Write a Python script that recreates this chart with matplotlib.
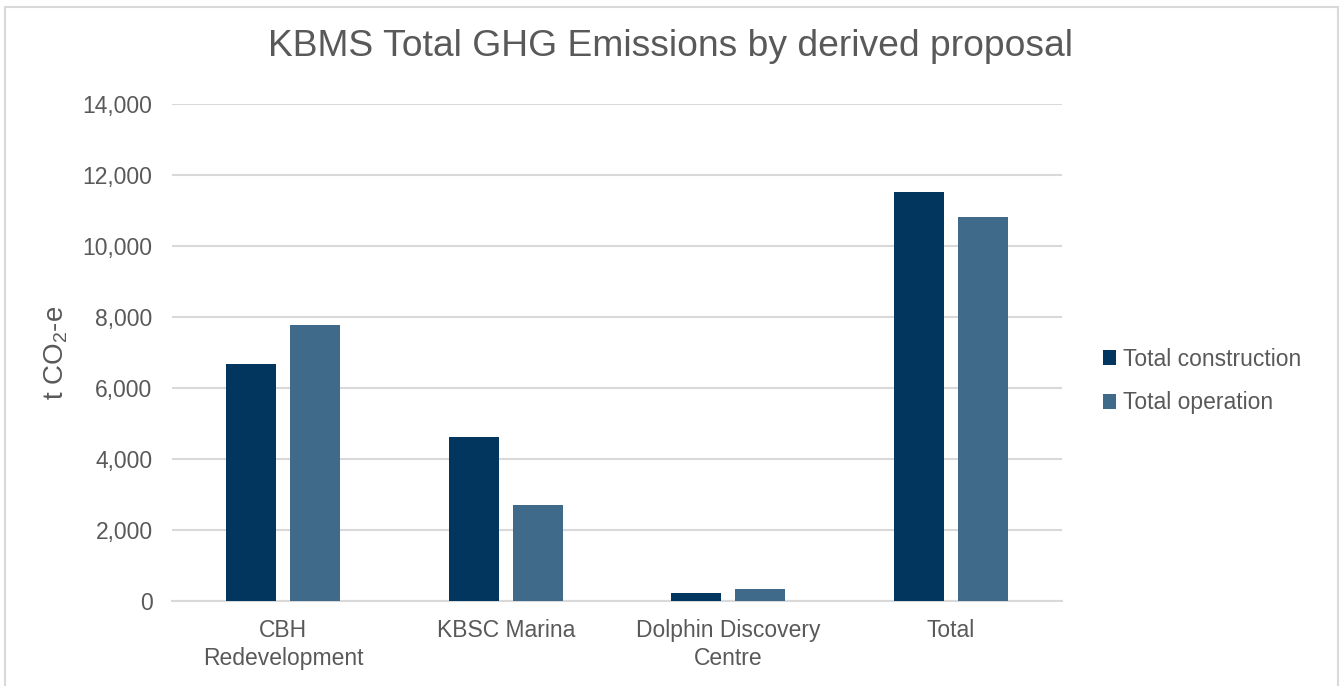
import numpy as np
import matplotlib; matplotlib.use("Agg")
import matplotlib.pyplot as plt
from matplotlib.patches import Rectangle
from matplotlib.ticker import FuncFormatter

plt.rcParams.update({"font.family": ["Liberation Sans", "DejaVu Sans"],
                     "mathtext.fontset": "custom", "mathtext.rm": "Liberation Sans",
                     "mathtext.it": "Liberation Sans:italic"})

categories = ["CBH\nRedevelopment", "KBSC Marina", "Dolphin Discovery\nCentre", "Total"]
construction = [6680, 4620, 215, 11520]
operation = [7780, 2700, 325, 10820]
series_names = ["Total construction", "Total operation"]
colors = ["#03365F", "#3F6A8A"]
txt = "#595959"
grid_c = "#D9D9D9"

fig = plt.figure(figsize=(13.4, 6.86), dpi=100)
W, H = 1340, 686
ax = fig.add_axes([172/W, 1-601/H, (1062-172)/W, (601-104)/H])

x = np.arange(len(categories))
bw = 0.225
off = 0.144
ax.bar(x-off, construction, bw, color=colors[0], label=series_names[0], zorder=3)
ax.bar(x+off, operation, bw, color=colors[1], label=series_names[1], zorder=3)

ax.set_xlim(-0.5, len(categories)-0.5)
ax.set_ylim(0, 14000)
ax.set_yticks(np.arange(0, 14001, 2000))
ax.yaxis.set_major_formatter(FuncFormatter(lambda v, p: f"{int(v):,}"))
ax.set_xticks(x)
ax.set_xticklabels(categories, fontsize=16.5, color=txt, linespacing=1.3)
ax.tick_params(axis="y", labelsize=16.5, colors=txt, length=0, pad=14)
ax.tick_params(axis="x", length=0, pad=13)
ax.grid(axis="y", color=grid_c, lw=1.5, zorder=0)
for s in ["top", "right", "left"]:
    ax.spines[s].set_visible(False)
ax.spines["bottom"].set_color(grid_c)
ax.spines["bottom"].set_linewidth(1.5)

# y label placed by hand, centred where the reference has it
ax.set_ylabel(r"t CO$_2$-e", fontsize=20, color=txt)
ax.yaxis.set_label_coords(56/W, 1-353/H, transform=fig.transFigure)
ax.yaxis.label.set_va("center")
fig.text(670/W, 1-47/H, "KBMS Total GHG Emissions by derived proposal",
         ha="center", va="center", fontsize=26.8, color=txt)

leg = ax.legend(loc="center left", bbox_to_anchor=(1082/W, 1-381/H),
                bbox_transform=fig.transFigure, frameon=False, fontsize=16.5,
                handlelength=0.6, handleheight=0.6, handletextpad=0.3, labelspacing=0.9)
for t in leg.get_texts():
    t.set_color(txt)

fig.patches.append(Rectangle((5/W, -0.05), (1338-5)/W, 1-7/H+0.05, transform=fig.transFigure,
                             fill=False, edgecolor=grid_c, lw=1.5))

fig.savefig("out.png", dpi=100, facecolor="white")
